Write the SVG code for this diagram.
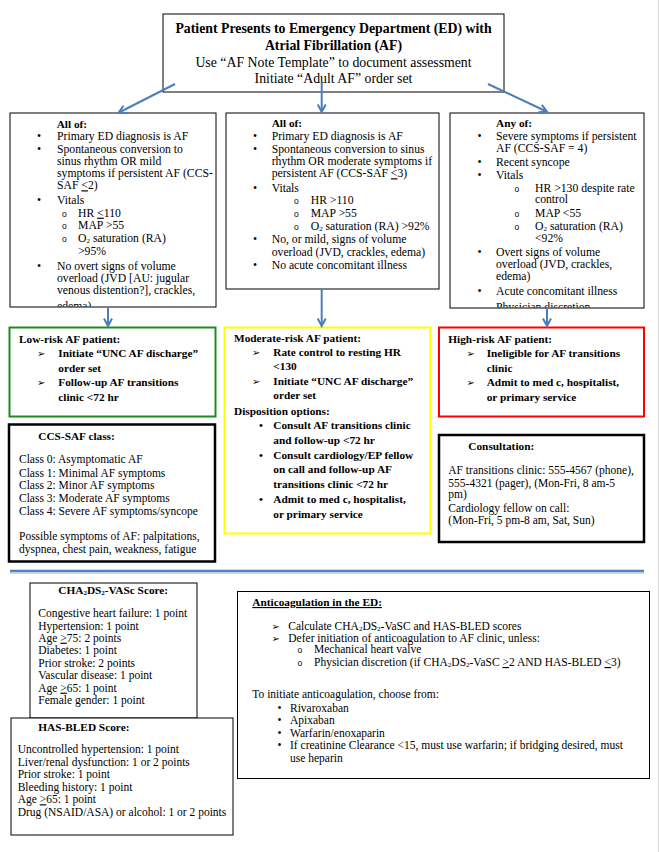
<svg xmlns="http://www.w3.org/2000/svg" width="660" height="852" viewBox="0 0 660 852">
<style>
text{font-family:"Liberation Serif","Times New Roman",serif;fill:#000}
.t{font-size:11.5px}
.tt{font-size:11.7px}
.b{font-size:11.3px;font-weight:bold}
.h{font-size:13.8px}
.hb{font-size:13.8px;font-weight:bold}
.ar{font-family:"DejaVu Sans",sans-serif;font-size:10px}
.o{font-family:"Liberation Sans",Arial,sans-serif;font-size:8.5px}
.u{text-decoration:underline}
.box{fill:#fff;stroke:#000;stroke-width:1}
.conn{stroke:#4A7EBB;stroke-width:2;fill:none;marker-end:url(#ah)}
.sub{font-size:7px}
</style>
<defs>
<marker id="ah" viewBox="0 0 10 10" refX="8" refY="5" markerWidth="5" markerHeight="5" orient="auto" markerUnits="strokeWidth">
<path d="M1,1 L8.5,5 L1,9" fill="none" stroke="#4A7EBB" stroke-width="2"/>
</marker>
<clipPath id="cL"><rect x="10" y="113" width="206" height="193.5"/></clipPath>
<clipPath id="cR"><rect x="450" y="113" width="194" height="194.5"/></clipPath>
</defs>
<rect width="660" height="852" fill="#fff"/>
<line x1="658.3" y1="0" x2="658.3" y2="852" stroke="#D9D9D9" stroke-width="1"/>

<g id="start">
<rect class="box" x="163" y="14" width="341" height="78"/>
<text class="hb" x="333.5" y="32.5" text-anchor="middle">Patient Presents to Emergency Department (ED) with</text>
<text class="hb" x="333.5" y="49.5" text-anchor="middle">Atrial Fibrillation (AF)</text>
<text class="h" x="333.5" y="66.5" text-anchor="middle">Use “AF Note Template” to document assessment</text>
<text class="h" x="333.5" y="82.5" text-anchor="middle">Initiate “Adult AF” order set</text>
</g>

<g id="criteria-low">
<rect class="box" x="10" y="113" width="206" height="194"/>
<g clip-path="url(#cL)">
<text class="b" x="56.7" y="127.7">All of:</text>
<text class="tt" x="37" y="140">•</text>
<text class="tt" x="57" y="140">Primary ED diagnosis is AF</text>
<text class="tt" x="37" y="152.7">•</text>
<text class="tt" x="57" y="152.7">Spontaneous conversion to</text>
<text class="tt" x="57" y="165">sinus rhythm OR mild</text>
<text class="tt" x="57" y="177.3">symptoms if persistent AF (CCS-</text>
<text class="tt" x="57" y="189.3">SAF <tspan class="u">&lt;</tspan>2)</text>
<text class="tt" x="37" y="204.3">•</text>
<text class="tt" x="57" y="204.3">Vitals</text>
<text class="o" x="62" y="216.7">o</text>
<text class="tt" x="78" y="216.7">HR <tspan class="u">&lt;</tspan>110</text>
<text class="o" x="62" y="229.3">o</text>
<text class="tt" x="78" y="229.3">MAP &gt;55</text>
<text class="o" x="62" y="241.7">o</text>
<text class="tt" x="78" y="241.7">O<tspan class="sub" dy="1">2</tspan><tspan dy="-1"> saturation (RA)</tspan></text>
<text class="tt" x="78" y="255">&gt;95%</text>
<text class="tt" x="37" y="270">•</text>
<text class="tt" x="57" y="270">No overt signs of volume</text>
<text class="tt" x="57" y="282.3">overload (JVD [AU: jugular</text>
<text class="tt" x="57" y="294.3">venous distention?], crackles,</text>
<text class="tt" x="57" y="310">edema)</text>
</g>
</g>

<g id="criteria-moderate">
<rect class="box" x="226" y="113" width="213" height="176"/>
<text class="b" x="271.7" y="126.7">All of:</text>
<text class="tt" x="253" y="140">•</text>
<text class="tt" x="271.7" y="140">Primary ED diagnosis is AF</text>
<text class="tt" x="253" y="152.7">•</text>
<text class="tt" x="271.7" y="152.7">Spontaneous conversion to sinus</text>
<text class="tt" x="271.7" y="165">rhythm OR moderate symptoms if</text>
<text class="tt" x="271.7" y="177.3">persistent AF (CCS-SAF <tspan class="u">&lt;</tspan>3)</text>
<text class="tt" x="253" y="191.7">•</text>
<text class="tt" x="271.7" y="191.7">Vitals</text>
<text class="o" x="294" y="204.3">o</text>
<text class="tt" x="310.7" y="204.3">HR &gt;110</text>
<text class="o" x="294" y="216.7">o</text>
<text class="tt" x="310.7" y="216.7">MAP &gt;55</text>
<text class="o" x="294" y="230">o</text>
<text class="tt" x="310.7" y="230">O<tspan class="sub" dy="1">2</tspan><tspan dy="-1"> saturation (RA) &gt;92%</tspan></text>
<text class="tt" x="253" y="243.3">•</text>
<text class="tt" x="271.7" y="243.3">No, or mild, signs of volume</text>
<text class="tt" x="271.7" y="256">overload (JVD, crackles, edema)</text>
<text class="tt" x="253" y="269.3">•</text>
<text class="tt" x="271.7" y="269.3">No acute concomitant illness</text>
</g>

<g id="criteria-high">
<rect class="box" x="450" y="113" width="194" height="195"/>
<g clip-path="url(#cR)">
<text class="b" x="496" y="126.7">Any of:</text>
<text class="tt" x="477.5" y="140">•</text>
<text class="tt" x="496" y="140">Severe symptoms if persistent</text>
<text class="tt" x="496" y="151.7">AF (CCS-SAF = 4)</text>
<text class="tt" x="477.5" y="166">•</text>
<text class="tt" x="496" y="166">Recent syncope</text>
<text class="tt" x="477.5" y="179">•</text>
<text class="tt" x="496" y="179">Vitals</text>
<text class="o" x="514.5" y="191.7">o</text>
<text class="tt" x="535" y="191.7">HR &gt;130 despite rate</text>
<text class="tt" x="535" y="203.3">control</text>
<text class="o" x="514.5" y="216.7">o</text>
<text class="tt" x="535" y="216.7">MAP &lt;55</text>
<text class="o" x="514.5" y="230">o</text>
<text class="tt" x="535" y="230">O<tspan class="sub" dy="1">2</tspan><tspan dy="-1"> saturation (RA)</tspan></text>
<text class="tt" x="535" y="241.7">&lt;92%</text>
<text class="tt" x="477.5" y="255.7">•</text>
<text class="tt" x="496" y="255.7">Overt signs of volume</text>
<text class="tt" x="496" y="268.3">overload (JVD, crackles,</text>
<text class="tt" x="496" y="280">edema)</text>
<text class="tt" x="477.5" y="295">•</text>
<text class="tt" x="496" y="295">Acute concomitant illness</text>
<text class="tt" x="496" y="310.5">Physician discretion</text>
</g>
</g>

<g id="low-risk">
<rect x="9.5" y="327.5" width="206" height="89" fill="#fff" stroke="#1F8A1F" stroke-width="2"/>
<text class="b" x="19" y="342.7">Low-risk AF patient:</text>
<text class="ar" x="37" y="357.3">➢</text>
<text class="b" x="58.3" y="357.3">Initiate “UNC AF discharge”</text>
<text class="b" x="58.3" y="371.7">order set</text>
<text class="ar" x="37" y="386">➢</text>
<text class="b" x="58.3" y="386">Follow-up AF transitions</text>
<text class="b" x="58.3" y="400.7">clinic &lt;72 hr</text>
</g>

<g id="ccs-saf">
<rect x="9" y="424.5" width="206" height="137" fill="#fff" stroke="#000" stroke-width="2.5"/>
<text class="b" x="38.3" y="440">CCS-SAF class:</text>
<text class="t" x="19" y="463.3">Class 0: Asymptomatic AF</text>
<text class="t" x="19" y="476.7">Class 1: Minimal AF symptoms</text>
<text class="t" x="19" y="489.3">Class 2: Minor AF symptoms</text>
<text class="t" x="19" y="502.3">Class 3: Moderate AF symptoms</text>
<text class="t" x="19" y="515">Class 4: Severe AF symptoms/syncope</text>
<text class="t" x="19" y="540">Possible symptoms of AF: palpitations,</text>
<text class="t" x="19" y="552.7">dyspnea, chest pain, weakness, fatigue</text>
</g>

<g id="moderate-risk">
<rect x="224.5" y="327.5" width="206" height="206" fill="#fff" stroke="#FFFF00" stroke-width="2"/>
<text class="b" x="234" y="341.7">Moderate-risk AF patient:</text>
<text class="ar" x="252" y="355.7">➢</text>
<text class="b" x="273.3" y="355.7">Rate control to resting HR</text>
<text class="b" x="273.3" y="370">&lt;130</text>
<text class="ar" x="252" y="385">➢</text>
<text class="b" x="273.3" y="385">Initiate “UNC AF discharge”</text>
<text class="b" x="273.3" y="399.3">order set</text>
<text class="b" x="234" y="415">Disposition options:</text>
<text class="b" x="259" y="429.3">•</text>
<text class="b" x="273.3" y="429.3">Consult AF transitions clinic</text>
<text class="b" x="273.3" y="444">and follow-up &lt;72 hr</text>
<text class="b" x="259" y="459">•</text>
<text class="b" x="273.3" y="459">Consult cardiology/EP fellow</text>
<text class="b" x="273.3" y="473.3">on call and follow-up AF</text>
<text class="b" x="273.3" y="488.3">transitions clinic &lt;72 hr</text>
<text class="b" x="259" y="503.3">•</text>
<text class="b" x="273.3" y="503.3">Admit to med c, hospitalist,</text>
<text class="b" x="273.3" y="517.7">or primary service</text>
</g>

<g id="high-risk">
<rect x="439" y="327.5" width="205" height="89" fill="#fff" stroke="#FF0000" stroke-width="2"/>
<text class="b" x="448.3" y="342.7">High-risk AF patient:</text>
<text class="ar" x="466.5" y="357.3">➢</text>
<text class="b" x="486.7" y="357.3">Ineligible for AF transitions</text>
<text class="b" x="486.7" y="371.7">clinic</text>
<text class="ar" x="466.5" y="386">➢</text>
<text class="b" x="486.7" y="386">Admit to med c, hospitalist,</text>
<text class="b" x="486.7" y="400.7">or primary service</text>
</g>

<g id="consultation">
<rect x="439" y="435" width="205" height="107" fill="#fff" stroke="#000" stroke-width="2.5"/>
<text class="b" x="468.3" y="450">Consultation:</text>
<text class="t" x="448.3" y="474">AF transitions clinic: 555-4567 (phone),</text>
<text class="t" x="448.3" y="486.7">555-4321 (pager), (Mon-Fri, 8 am-5</text>
<text class="t" x="448.3" y="498.3">pm)</text>
<text class="t" x="448.3" y="511.7">Cardiology fellow on call:</text>
<text class="t" x="448.3" y="524">(Mon-Fri, 5 pm-8 am, Sat, Sun)</text>
</g>

<g id="separator">
<line x1="10" y1="573.3" x2="644" y2="573.3" stroke="#D4D4D4" stroke-width="1.5"/>
<line x1="10" y1="571" x2="644" y2="571" stroke="#4F81BD" stroke-width="2.5"/>
</g>

<g id="cha2ds2-vasc">
<rect class="box" x="30" y="583" width="167" height="135"/>
<text class="b" x="58.3" y="594">CHA<tspan class="sub" dy="1">2</tspan><tspan dy="-1">DS</tspan><tspan class="sub" dy="1">2</tspan><tspan dy="-1">-VASc Score:</tspan></text>
<text class="t" x="38.3" y="617.3">Congestive heart failure: 1 point</text>
<text class="t" x="38.3" y="630">Hypertension: 1 point</text>
<text class="t" x="38.3" y="641.7">Age <tspan class="u">&gt;</tspan>75: 2 points</text>
<text class="t" x="38.3" y="654.3">Diabetes: 1 point</text>
<text class="t" x="38.3" y="666.7">Prior stroke: 2 points</text>
<text class="t" x="38.3" y="679">Vascular disease: 1 point</text>
<text class="t" x="38.3" y="691.7">Age <tspan class="u">&gt;</tspan>65: 1 point</text>
<text class="t" x="38.3" y="704">Female gender: 1 point</text>
</g>

<g id="has-bled">
<rect class="box" x="11" y="718" width="222" height="117"/>
<text class="b" x="38.3" y="730.7">HAS-BLED Score:</text>
<text class="t" x="17.7" y="753.3">Uncontrolled hypertension: 1 point</text>
<text class="t" x="17.7" y="766">Liver/renal dysfunction: 1 or 2 points</text>
<text class="t" x="17.7" y="778.3">Prior stroke: 1 point</text>
<text class="t" x="17.7" y="790.7">Bleeding history: 1 point</text>
<text class="t" x="17.7" y="803.3">Age <tspan class="u">&gt;</tspan>65: 1 point</text>
<text class="t" x="17.7" y="816">Drug (NSAID/ASA) or alcohol: 1 or 2 points</text>
</g>

<g id="anticoagulation">
<rect class="box" x="237.5" y="591.5" width="412" height="187"/>
<text class="b u" x="252.3" y="606">Anticoagulation in the ED:</text>
<text class="ar" x="271.5" y="630">➢</text>
<text class="t" x="288.3" y="630">Calculate CHA<tspan class="sub" dy="1">2</tspan><tspan dy="-1">DS</tspan><tspan class="sub" dy="1">2</tspan><tspan dy="-1">-VaSC and HAS-BLED scores</tspan></text>
<text class="ar" x="271.5" y="641.7">➢</text>
<text class="t" x="288.3" y="641.7">Defer initiation of anticoagulation to AF clinic, unless:</text>
<text class="o" x="297.5" y="652.7">o</text>
<text class="t" x="314" y="652.7">Mechanical heart valve</text>
<text class="o" x="297.5" y="666">o</text>
<text class="t" x="314" y="666">Physician discretion (if CHA<tspan class="sub" dy="1">2</tspan><tspan dy="-1">DS</tspan><tspan class="sub" dy="1">2</tspan><tspan dy="-1">-VaSC </tspan><tspan class="u">&gt;</tspan>2 AND HAS-BLED <tspan class="u">&lt;</tspan>3)</text>
<text class="t" x="252.3" y="698.3">To initiate anticoagulation, choose from:</text>
<text class="t" x="277.5" y="711.7">•</text>
<text class="t" x="290" y="711.7">Rivaroxaban</text>
<text class="t" x="277.5" y="724">•</text>
<text class="t" x="290" y="724">Apixaban</text>
<text class="t" x="277.5" y="736.7">•</text>
<text class="t" x="290" y="736.7">Warfarin/enoxaparin</text>
<text class="t" x="277.5" y="749.3">•</text>
<text class="t" x="290" y="749.3">If creatinine Clearance &lt;15, must use warfarin; if bridging desired, must</text>
<text class="t" x="290" y="761.7">use heparin</text>
</g>

<g id="connectors">
<line class="conn" x1="175" y1="84" x2="119" y2="112.5"/>
<line class="conn" x1="321.7" y1="82" x2="321.7" y2="111.5"/>
<line class="conn" x1="488" y1="84" x2="546.5" y2="111.5"/>
<line class="conn" x1="108" y1="307" x2="108" y2="325.5"/>
<line class="conn" x1="321.7" y1="289" x2="321.7" y2="325.5"/>
<line class="conn" x1="547" y1="308" x2="547" y2="325.5"/>
</g>
</svg>
